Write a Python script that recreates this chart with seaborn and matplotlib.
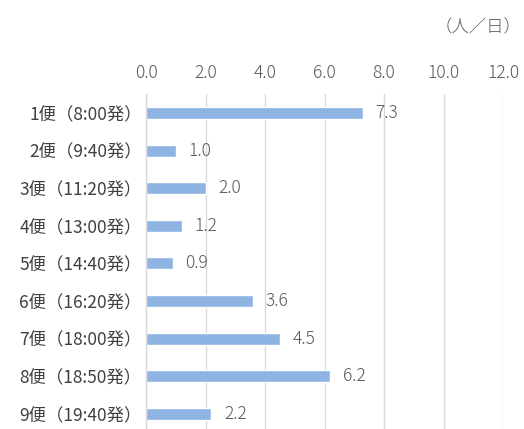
import matplotlib
matplotlib.use("Agg")
import matplotlib.pyplot as plt
import seaborn as sns
import pandas as pd

categories = ["1便（8:00発）", "2便（9:40発）", "3便（11:20発）", "4便（13:00発）",
              "5便（14:40発）", "6便（16:20発）", "7便（18:00発）", "8便（18:50発）",
              "9便（19:40発）"]
values = [7.3, 1.0, 2.0, 1.2, 0.9, 3.6, 4.5, 6.2, 2.2]
xticks = [0, 2, 4, 6, 8, 10, 12]
unit_label = "（人／日）"

sns.set_theme(style="white")
plt.rcParams['font.family'] = ['Noto Sans CJK JP', 'DejaVu Sans']

df = pd.DataFrame({"cat": categories, "val": values})

fig = plt.figure(figsize=(5.24, 4.29), dpi=100)
ax = fig.add_axes([146/524, 0.0, (503-146)/524, 335/429])

sns.barplot(data=df, x="val", y="cat", orient="h", color="#8DB4E2",
            width=0.32, saturation=1, ax=ax, zorder=3)

ax.set_xlim(0, 12)
ax.set_ylim(8.40, -0.505)
ax.set_xticks(xticks)
ax.set_xticklabels([f"{t:.1f}" for t in xticks])
ax.xaxis.tick_top()
ax.tick_params(axis="x", length=0, pad=9, labelsize=12.5, labelcolor="#595959")
ax.tick_params(axis="y", length=0, pad=3, labelsize=12.5, labelcolor="#404040")
for lab in ax.get_xticklabels():
    lab.set_fontweight("light")
ax.set_xlabel("")
ax.set_ylabel("")
ax.grid(axis="x", color="#D9D9D9", linewidth=1, zorder=0)
for s in ["top", "right", "bottom"]:
    ax.spines[s].set_visible(False)
ax.spines["left"].set_color("#D9D9D9")
ax.spines["left"].set_linewidth(1)
ax.spines["left"].set_zorder(4)

for c in ax.containers:
    ax.bar_label(c, labels=[f"{v:.1f}" for v in values], padding=9,
                 fontsize=12.5, color="#595959", fontweight="light")

fig.text(521/524, 1 - 27/429, unit_label, ha="right", va="center",
         fontsize=12.5, color="#595959", fontweight="light")

fig.savefig("out.png", dpi=100)
